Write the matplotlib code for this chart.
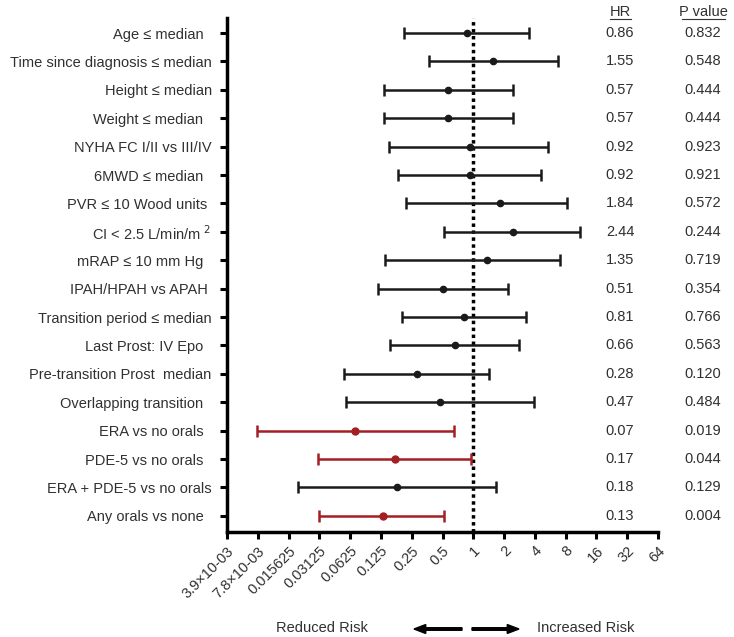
import numpy as np
import matplotlib.pyplot as plt
from matplotlib.patches import FancyArrow

plt.rcParams['font.family'] = ['Liberation Sans', 'DejaVu Sans']
plt.rcParams['text.color'] = '#303030'

# data
labels = ['Age ≤ median  ', 'Time since diagnosis ≤ median', 'Height ≤ median',
          'Weight ≤ median  ', 'NYHA FC I/II vs III/IV', '6MWD ≤ median  ',
          'PVR ≤ 10 Wood units ', 'CI < 2.5 L/min/m $^{2}$', 'mRAP ≤ 10 mm Hg  ',
          'IPAH/HPAH vs APAH ', 'Transition period ≤ median', 'Last Prost: IV Epo  ',
          'Pre-transition Prost  median', 'Overlapping transition  ', 'ERA vs no orals  ',
          'PDE-5 vs no orals  ', 'ERA + PDE-5 vs no orals', 'Any orals vs none  ']
hr = [0.86, 1.55, 0.57, 0.57, 0.92, 0.92, 1.84, 2.44, 1.35, 0.51, 0.81, 0.66,
      0.28, 0.47, 0.07, 0.17, 0.18, 0.13]
ci_low = [0.21, 0.37, 0.134, 0.134, 0.15, 0.184, 0.22, 0.52, 0.137, 0.117, 0.20,
          0.153, 0.055, 0.057, 0.0077, 0.030, 0.0195, 0.031]
ci_high = [3.48, 6.7, 2.43, 2.43, 5.36, 4.6, 8.3, 11.1, 7.0, 2.17, 3.25, 2.79,
           1.41, 3.9, 0.65, 0.96, 1.66, 0.52]
pvals = ['0.832', '0.548', '0.444', '0.444', '0.923', '0.921', '0.572', '0.244',
         '0.719', '0.354', '0.766', '0.563', '0.120', '0.484', '0.019', '0.044',
         '0.129', '0.004']
significant = [False] * 14 + [True, True, False, True]
xticks = [2.0 ** k for k in range(-8, 7)]
xticklabels = ['3.9×10-03', '7.8×10-03', '0.015625', '0.03125', '0.0625', '0.125',
               '0.25', '0.5', '1', '2', '4', '8', '16', '32', '64']

red = '#a31f24'
fs = 10.5

fig = plt.figure(figsize=(7.34, 6.37), dpi=100)
ax = fig.add_axes([227 / 734, 1 - 532 / 637, (658 - 227) / 734, (532 - 18) / 637])

y = np.arange(len(labels))
for i in range(len(labels)):
    c = red if significant[i] else '#1a1a1a'
    ax.errorbar(hr[i], y[i], xerr=[[hr[i] - ci_low[i]], [ci_high[i] - hr[i]]],
                fmt='o', color=c, ms=5 if significant[i] else 4.5, lw=1.8,
                capsize=4, capthick=1.8)

ax.axvline(1, color='black', ls=(0, (1, 1)), lw=2.5, zorder=0)

ax.set_xscale('log', base=2)
ax.set_xlim(2.0 ** -8, 2.0 ** 6)
ax.set_ylim(17.57, -0.53)
ax.set_xticks(xticks)
ax.set_xticklabels(xticklabels, rotation=45, ha='right', rotation_mode='anchor',
                   fontsize=fs, color='#303030')
ax.minorticks_off()
ax.set_yticks(y)
ax.set_yticklabels(labels, fontsize=fs, color='#303030')
ax.tick_params(axis='both', width=2.2, length=5, color='black')
ax.tick_params(axis='y', pad=6)

for s in ['top', 'right']:
    ax.spines[s].set_visible(False)
for s in ['left', 'bottom']:
    ax.spines[s].set_linewidth(2.5)

# HR and P value columns
tr = ax.get_yaxis_transform()
fig.text(620 / 734, 1 - 12 / 637, 'HR', ha='center', va='center', fontsize=fs)
fig.text(703 / 734, 1 - 12 / 637, 'P value', ha='center', va='center', fontsize=fs)
fig.add_artist(plt.Line2D([610 / 734, 631 / 734], [1 - 19 / 637] * 2, color='#333333', lw=0.8))
fig.add_artist(plt.Line2D([682 / 734, 725 / 734], [1 - 19 / 637] * 2, color='#333333', lw=0.8))
for i in range(len(labels)):
    ax.text((620 - 227) / (658 - 227), y[i], f'{hr[i]:.2f}', transform=tr,
            ha='center', va='center', fontsize=fs, clip_on=False)
    ax.text((703 - 227) / (658 - 227), y[i], pvals[i], transform=tr,
            ha='center', va='center', fontsize=fs, clip_on=False)

# risk direction
fig.text(322 / 734, 1 - 628 / 637, 'Reduced Risk', ha='center', va='center', fontsize=fs)
fig.text(537 / 734, 1 - 628 / 637, 'Increased Risk', ha='left', va='center', fontsize=fs)
fig.add_artist(FancyArrow(462 / 734, 1 - 629 / 637, -48 / 734, 0, width=0.004,
                          head_width=0.014, head_length=0.016,
                          length_includes_head=True, color='black'))
fig.add_artist(FancyArrow(472 / 734, 1 - 629 / 637, 47 / 734, 0, width=0.004,
                          head_width=0.014, head_length=0.016,
                          length_includes_head=True, color='black'))

fig.savefig('out.png', dpi=100)
